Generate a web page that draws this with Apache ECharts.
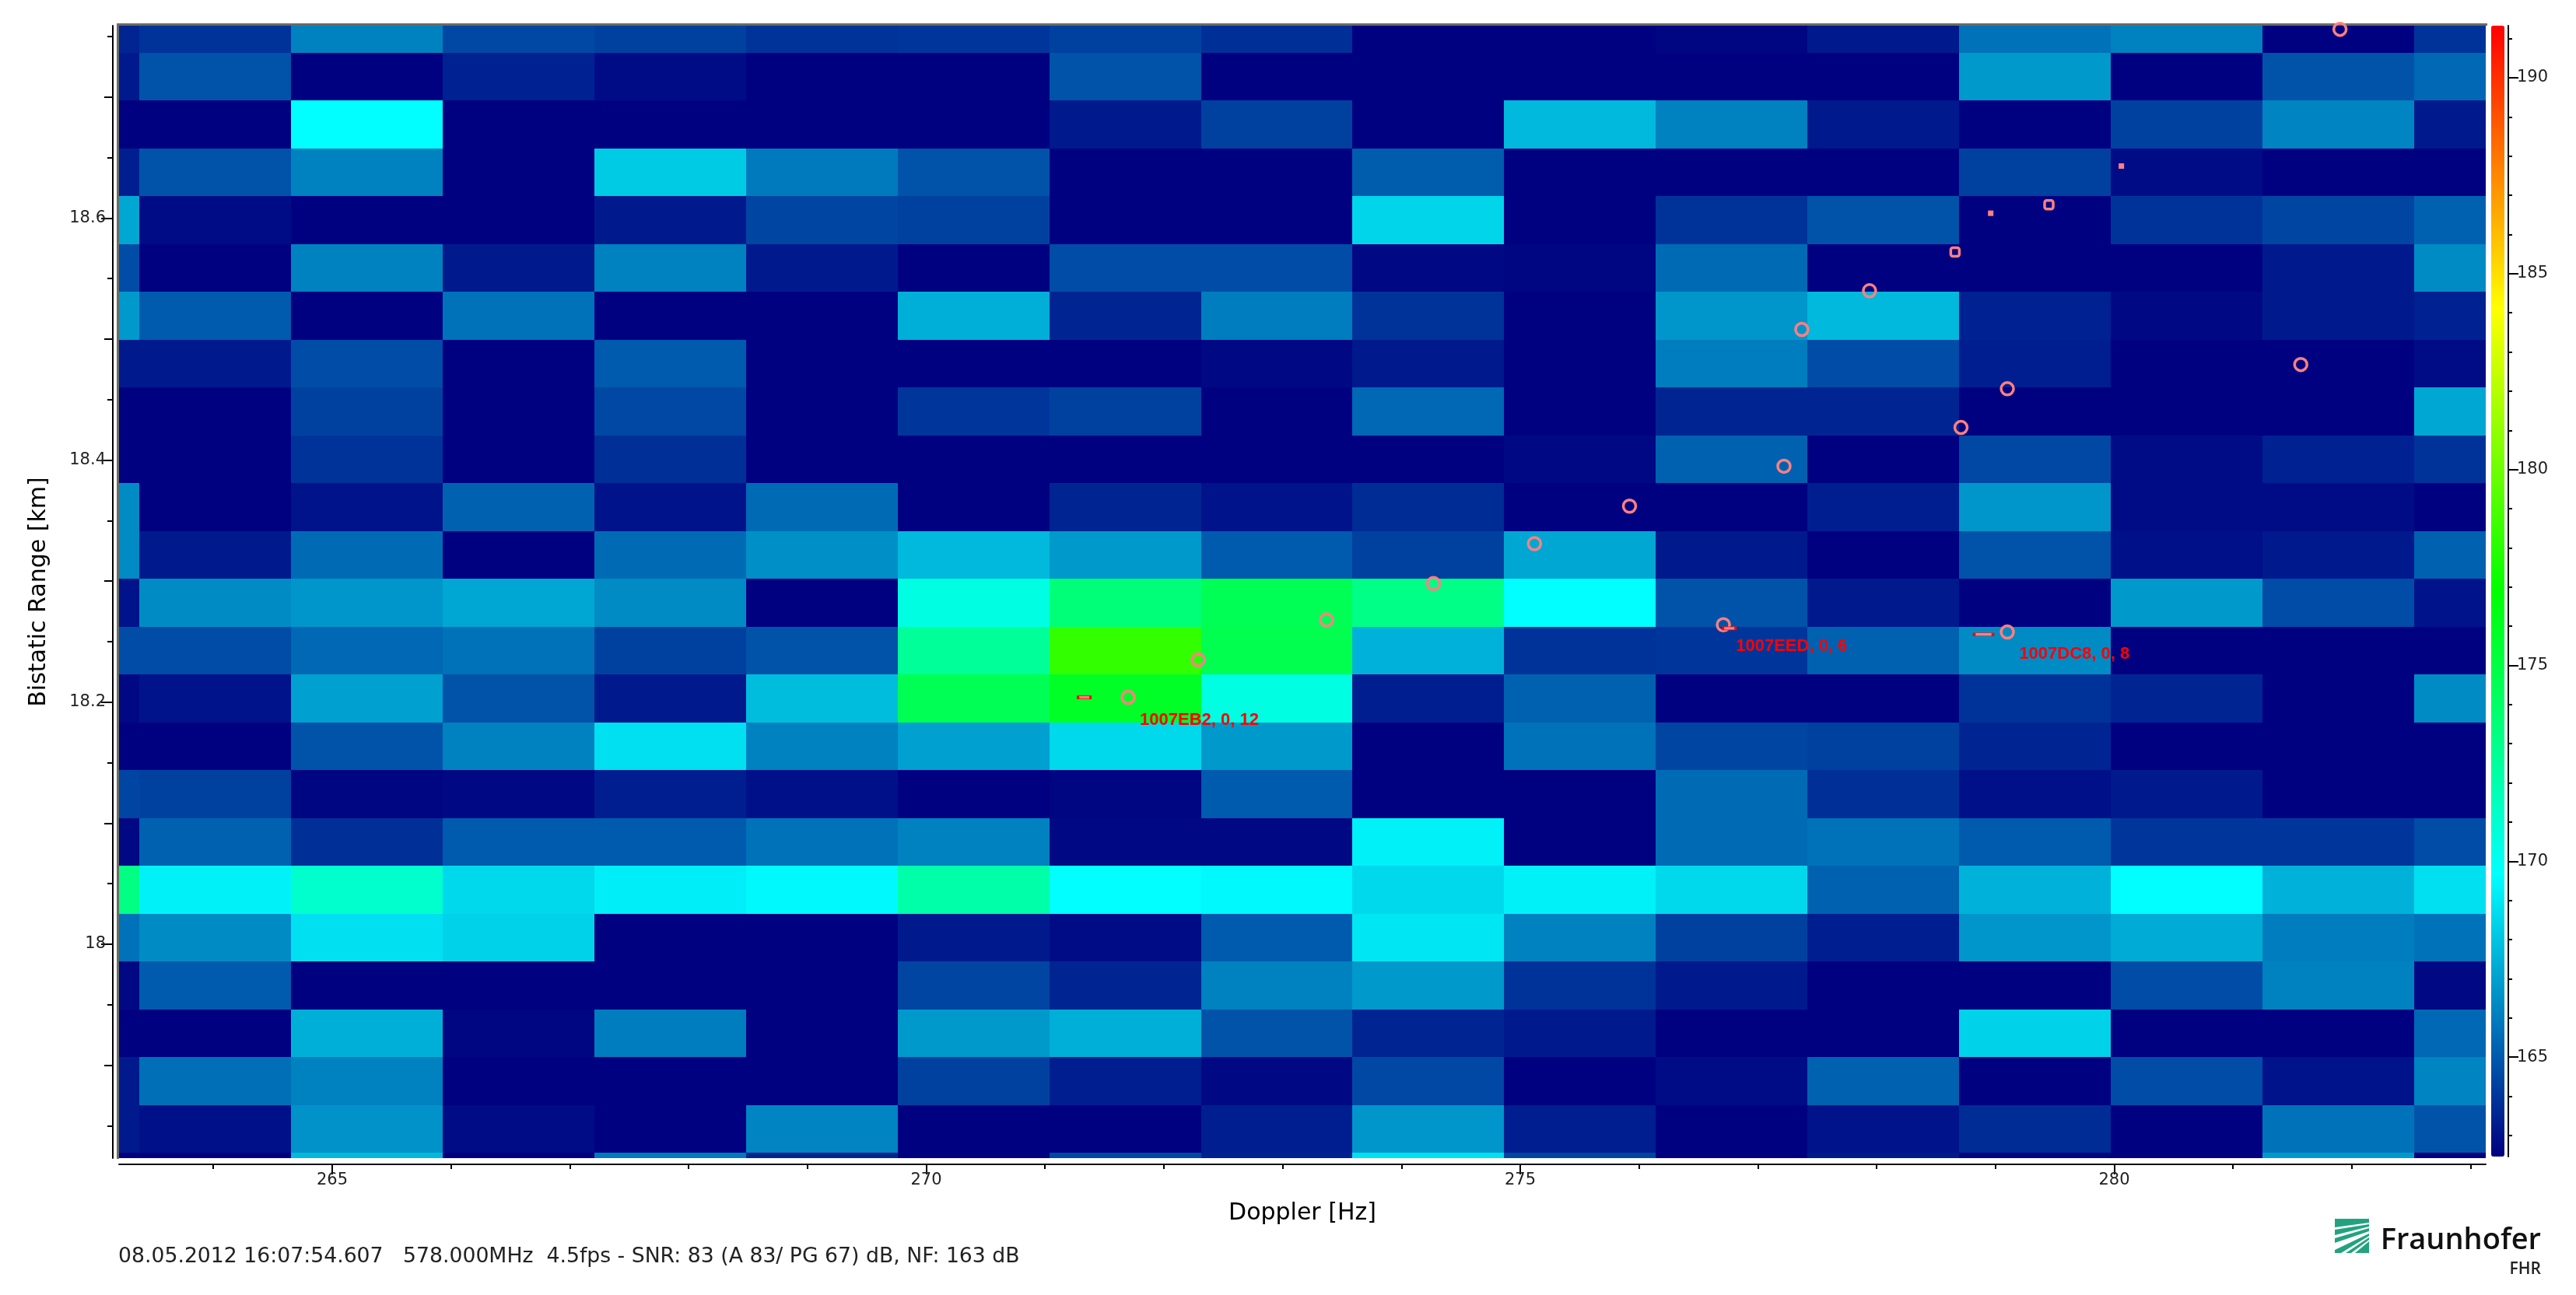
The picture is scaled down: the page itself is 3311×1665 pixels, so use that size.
<!DOCTYPE html>
<html>
<head>
<meta charset="utf-8">
<title>Bistatic range / Doppler</title>
<script src="https://cdn.jsdelivr.net/npm/echarts@6/dist/echarts.min.js"></script>
<style>
  html, body { margin: 0; padding: 0; background: #fff; }
  #main { width: 3311px; height: 1665px; }
</style>
</head>
<body>
<div id="main"></div>
<script>
// cell edges, left to right and top to bottom
var dopplerEdges = [263.206, 263.376, 264.652, 265.929, 267.205, 268.482, 269.759, 271.035, 272.312,
  273.588, 274.865, 276.142, 277.418, 278.695, 279.971, 281.248, 282.525, 283.127];
var rangeEdges = [18.759, 18.7365, 18.697, 18.6575, 18.618, 18.5785, 18.539, 18.4994, 18.46, 18.4204,
  18.3809, 18.3414, 18.3019, 18.2624, 18.2229, 18.1834, 18.1439, 18.1044, 18.0648, 18.0253,
  17.9859, 17.9463, 17.9068, 17.8673, 17.8278, 17.8233];

// power in dB, one row per range cell, top row first
var powerRows = [
  [163.5, 163.9, 166.1, 164.5, 164.3, 163.9, 164.0, 164.3, 163.8, 162.5, 162.5, 162.6, 163.2, 165.7, 166.1, 162.5, 163.9],
  [163.2, 164.8, 162.5, 163.4, 162.8, 162.5, 162.5, 164.8, 162.5, 162.5, 162.5, 162.5, 162.5, 166.8, 162.5, 164.8, 165.4],
  [162.5, 162.5, 169.7, 162.5, 162.5, 162.5, 162.5, 163.2, 164.3, 162.5, 167.7, 166.1, 163.2, 162.5, 164.3, 166.2, 163.2],
  [163.3, 164.8, 166.1, 162.5, 168.2, 165.9, 164.8, 162.5, 162.5, 165.1, 162.5, 162.5, 162.5, 164.3, 162.8, 162.5, 162.5],
  [167.2, 162.8, 162.5, 162.5, 163.2, 164.4, 164.3, 162.5, 162.5, 168.5, 162.5, 163.9, 164.8, 162.5, 163.9, 164.4, 165.2],
  [164.6, 162.5, 166.1, 163.2, 166.1, 163.2, 162.5, 164.6, 164.6, 162.7, 162.6, 165.5, 162.5, 162.5, 162.5, 163.2, 166.4],
  [166.8, 165.0, 162.5, 165.7, 162.5, 162.5, 167.4, 163.5, 166.0, 163.9, 162.5, 166.7, 167.7, 163.4, 162.7, 163.2, 163.4],
  [163.2, 163.2, 164.6, 162.5, 165.0, 162.5, 162.5, 162.5, 162.7, 163.2, 162.5, 166.0, 164.6, 163.3, 162.5, 162.5, 162.8],
  [162.5, 162.5, 164.3, 162.5, 164.5, 162.5, 164.0, 164.3, 162.5, 165.4, 162.5, 163.5, 163.5, 162.5, 162.5, 162.5, 167.2],
  [162.5, 162.5, 163.9, 162.5, 163.8, 162.5, 162.5, 162.5, 162.5, 162.5, 162.7, 165.2, 162.5, 164.5, 162.8, 163.4, 163.9],
  [166.4, 162.5, 163.0, 165.2, 163.0, 165.5, 162.5, 163.5, 163.0, 163.7, 162.5, 162.5, 163.3, 166.7, 162.8, 162.8, 162.5],
  [166.4, 163.2, 165.5, 162.5, 165.5, 166.5, 167.7, 166.8, 165.0, 164.3, 167.2, 163.2, 162.5, 164.8, 162.9, 163.2, 165.2],
  [163.0, 166.4, 166.7, 167.2, 166.4, 162.5, 170.5, 173.5, 174.5, 173.1, 169.7, 164.8, 163.2, 162.5, 166.8, 164.6, 163.0],
  [164.6, 164.6, 165.4, 165.7, 164.3, 164.8, 172.6, 178.3, 174.7, 167.5, 163.9, 164.0, 165.2, 166.4, 162.5, 162.5, 162.5],
  [162.7, 163.0, 167.0, 164.8, 163.2, 167.8, 174.5, 175.8, 170.5, 163.3, 165.2, 162.5, 162.5, 163.9, 163.5, 162.5, 166.4],
  [162.5, 162.5, 164.8, 166.1, 168.8, 166.1, 167.0, 168.6, 166.8, 162.5, 165.7, 164.4, 164.3, 163.5, 162.5, 162.5, 162.5],
  [164.4, 164.3, 162.6, 162.7, 163.3, 162.9, 162.5, 162.6, 165.0, 162.5, 162.5, 165.5, 163.8, 162.9, 163.2, 162.5, 162.5],
  [162.7, 165.2, 163.8, 165.0, 165.0, 165.7, 166.1, 162.7, 162.7, 169.3, 162.5, 165.5, 165.7, 165.0, 164.0, 164.0, 164.6],
  [173.2, 169.3, 171.1, 168.6, 169.2, 169.5, 172.1, 169.7, 169.5, 168.6, 169.3, 168.6, 165.2, 167.5, 169.7, 167.5, 168.8],
  [165.7, 166.4, 168.8, 168.4, 162.5, 162.5, 163.2, 162.8, 165.0, 169.0, 166.1, 164.3, 163.3, 166.7, 167.3, 166.0, 165.7],
  [162.7, 165.0, 162.5, 162.5, 162.5, 162.5, 164.4, 163.5, 166.1, 166.8, 163.9, 163.2, 162.5, 162.5, 164.6, 166.1, 162.7],
  [162.5, 162.5, 167.4, 162.6, 166.0, 162.5, 166.8, 167.4, 164.8, 163.5, 163.2, 162.5, 162.5, 168.4, 162.5, 162.5, 165.4],
  [163.2, 165.6, 166.1, 162.5, 162.5, 162.5, 164.3, 163.3, 162.7, 164.5, 162.5, 162.8, 165.2, 162.5, 164.6, 163.0, 166.2],
  [163.2, 162.9, 166.6, 162.8, 162.5, 166.2, 162.5, 162.5, 163.3, 166.7, 163.3, 162.5, 163.0, 163.7, 162.5, 165.7, 164.8],
  [162.5, 162.5, 167.7, 162.5, 165.9, 163.5, 162.5, 164.5, 163.4, 168.8, 164.4, 162.5, 163.2, 162.6, 162.5, 166.8, 162.5]
];

// [doppler, range]
var bigRings = [[281.90, 18.756], [277.94, 18.540], [277.37, 18.508], [279.10, 18.459], [278.71, 18.427],
  [277.22, 18.395], [275.92, 18.362], [275.12, 18.331], [274.27, 18.298], [273.37, 18.268], [276.71, 18.264],
  [279.10, 18.258], [272.29, 18.235], [271.70, 18.204], [281.57, 18.479]];
var smallRings = [[279.45, 18.611], [278.66, 18.572]];
var squares = [[280.06, 18.643], [278.96, 18.604]];
var tracks = [[271.33, 18.204], [276.76, 18.261], [278.90, 18.256]];
var trackNames = ['1007EB2, 0, 12', '1007EED, 0, 6', '1007DC8, 0, 8'];

var xMajor = [265, 270, 275, 280];
var xMinor = [264, 266, 267, 268, 269, 271, 272, 273, 274, 276, 277, 278, 279, 281, 282, 283];
var yMajor = [18, 18.2, 18.4, 18.6];
var yMedium = [17.9, 18.1, 18.3, 18.5, 18.7];
var yMinor = [17.85, 17.95, 18.05, 18.15, 18.25, 18.35, 18.45, 18.55, 18.65, 18.75];
var barMajor = [165, 170, 175, 180, 185, 190];
var barMinor = [163, 164, 166, 167, 168, 169, 171, 172, 173, 174, 176, 177, 178, 179, 181, 182, 183, 184, 186, 187, 188, 189, 191];

var footer = '08.05.2012 16:07:54.607   578.000MHz  4.5fps - SNR: 83 (A 83/ PG 67) dB, NF: 163 dB';

var dbMin = 162.46, dbMax = 191.33;
var font = 'DejaVu Sans';

var cells = [];
powerRows.forEach(function (row, r) {
  row.forEach(function (v, c) {
    cells.push([c, r, v]);
  });
});

function renderCell(params, api) {
  var c = api.value(0), r = api.value(1);
  var a = api.coord([dopplerEdges[c], rangeEdges[r]]);
  var b = api.coord([dopplerEdges[c + 1], rangeEdges[r + 1]]);
  var x0 = Math.round(a[0]), y0 = Math.round(a[1]);
  return {
    type: 'rect',
    shape: { x: x0, y: y0, width: Math.round(b[0]) - x0, height: Math.round(b[1]) - y0 },
    style: { fill: api.visual('color') }
  };
}

function tickAxis(values, len, extra) {
  var ax = {
    type: 'value',
    scale: true,
    splitLine: { show: false },
    axisLine: { show: false },
    axisLabel: { show: false },
    axisTick: { show: true, length: len, customValues: values, lineStyle: { color: '#000', width: 2 } }
  };
  for (var k in extra) ax[k] = extra[k];
  return ax;
}

var xBase = { gridIndex: 0, min: dopplerEdges[0], max: dopplerEdges[dopplerEdges.length - 1], position: 'bottom', offset: 8 };
var yBase = { gridIndex: 0, min: rangeEdges[rangeEdges.length - 1], max: rangeEdges[0], position: 'left', offset: 8 };
var barBase = { gridIndex: 1, min: dbMin, max: dbMax, position: 'right' };

var xMain = tickAxis(xMajor, 13, xBase);
xMain.axisLine = { show: true, onZero: false, lineStyle: { color: '#111', width: 2 } };
xMain.axisLabel = { show: true, customValues: xMajor, margin: 10, color: '#222', fontFamily: font, fontSize: 21 };
xMain.name = 'Doppler [Hz]';
xMain.nameLocation = 'middle';
xMain.nameGap = 48;
xMain.nameTextStyle = { color: '#000', fontFamily: font, fontSize: 30 };

var yMain = tickAxis(yMajor, 15, yBase);
yMain.axisLine = { show: true, onZero: false, lineStyle: { color: '#000', width: 2 } };
yMain.axisLabel = { show: true, customValues: yMajor, margin: 9, color: '#222', fontFamily: font, fontSize: 21 };
yMain.name = 'Bistatic Range [km]';
yMain.nameLocation = 'middle';
yMain.nameGap = 80;
yMain.nameTextStyle = { color: '#000', fontFamily: font, fontSize: 30 };

var barMain = tickAxis(barMajor, 13, barBase);
barMain.axisLine = { show: true, onZero: false, lineStyle: { color: '#000', width: 2 } };
barMain.axisLabel = { show: true, customValues: barMajor, margin: 11, color: '#222', fontFamily: font, fontSize: 21 };

var trackW = [16, 16, 24];
var trackOffset = [[62, 29], [-1, 23], [32, 25]];

var option = {
  backgroundColor: '#fff',
  animation: false,
  grid: [
    { left: 153, top: 33, width: 3042, height: 1456 },
    { left: 3223, top: 33, width: 1, height: 1454 }
  ],
  xAxis: [
    xMain,
    tickAxis(xMinor, 6, xBase),
    { type: 'value', gridIndex: 1, show: false, min: 0, max: 1 }
  ],
  yAxis: [
    yMain,
    tickAxis(yMedium, 11, yBase),
    tickAxis(yMinor, 7, yBase),
    barMain,
    tickAxis(barMinor, 6, barBase)
  ],
  visualMap: {
    type: 'continuous',
    seriesIndex: 0,
    dimension: 2,
    min: dbMin,
    max: dbMax,
    calculable: false,
    left: 3202,
    top: 33,
    padding: 0,
    itemWidth: 17,
    itemHeight: 1454,
    inRange: { color: ['#000080', '#00ffff', '#00ff00', '#ffff00', '#ff0000'] }
  },
  series: [
    {
      type: 'custom',
      xAxisIndex: 0,
      yAxisIndex: 0,
      silent: true,
      renderItem: renderCell,
      encode: { x: 0, y: 1 },
      data: cells
    },
    {
      type: 'scatter',
      xAxisIndex: 0,
      yAxisIndex: 0,
      silent: true,
      symbol: 'circle',
      symbolSize: 16,
      itemStyle: { color: 'rgba(0,0,0,0)', borderColor: '#ff8080', borderWidth: 3.5, opacity: 1 },
      data: bigRings
    },
    {
      type: 'scatter',
      xAxisIndex: 0,
      yAxisIndex: 0,
      silent: true,
      symbol: 'roundRect',
      symbolSize: 11,
      itemStyle: { color: 'rgba(0,0,0,0)', borderColor: '#ff8080', borderWidth: 3.5, opacity: 1 },
      data: smallRings
    },
    {
      type: 'scatter',
      xAxisIndex: 0,
      yAxisIndex: 0,
      silent: true,
      symbol: 'rect',
      symbolSize: 7,
      itemStyle: { color: '#ff8080', opacity: 1 },
      data: squares
    },
    {
      type: 'scatter',
      xAxisIndex: 0,
      yAxisIndex: 0,
      silent: true,
      symbol: 'rect',
      itemStyle: { color: '#ff8080', borderColor: '#ff0000', borderWidth: 1.5, opacity: 1 },
      data: tracks.map(function (p, i) {
        return {
          value: p,
          symbolSize: [trackW[i], 4],
          label: {
            show: true,
            position: 'right',
            distance: 0,
            offset: trackOffset[i],
            formatter: trackNames[i],
            color: '#ff0000',
            fontFamily: 'Liberation Sans',
            fontWeight: 'bold',
            fontSize: 22
          }
        };
      })
    }
  ],
  graphic: [
    // frame round the picture, top and left only
    { type: 'rect', shape: { x: 150, y: 30, width: 3047, height: 3 }, style: { fill: '#6b6b63' } },
    { type: 'rect', shape: { x: 150, y: 30, width: 3, height: 1460 }, style: { fill: '#6b6b63' } },
    {
      type: 'text', x: 152, y: 1616,
      style: { text: footer, fill: '#222', font: '26.7px "DejaVu Sans"', verticalAlign: 'middle' }
    },
    // logo
    { type: 'rect', shape: { x: 3001, y: 1567, width: 44, height: 44 }, style: { fill: '#22a37f' } },
    { type: 'polygon', shape: { points: [[3045, 1572], [3045, 1574], [3001, 1581], [3001, 1578]] }, style: { fill: '#fff' } },
    { type: 'polygon', shape: { points: [[3045, 1577], [3045, 1579], [3001, 1592], [3001, 1588]] }, style: { fill: '#fff' } },
    { type: 'polygon', shape: { points: [[3045, 1583], [3045, 1586], [3001, 1607], [3001, 1598]] }, style: { fill: '#fff' } },
    { type: 'polygon', shape: { points: [[3045, 1589], [3045, 1591], [3015, 1611], [3009, 1611]] }, style: { fill: '#fff' } },
    { type: 'polygon', shape: { points: [[3045, 1594], [3045, 1596], [3027, 1611], [3022, 1611]] }, style: { fill: '#fff' } },
    {
      type: 'text', x: 3266, y: 1614,
      style: { text: 'Fraunhofer', fill: '#111', font: '600 38px "Open Sans"', align: 'right', verticalAlign: 'bottom' }
    },
    {
      type: 'text', x: 3266, y: 1643,
      style: { text: 'FHR', fill: '#222', font: '600 21px "Open Sans"', align: 'right', verticalAlign: 'bottom' }
    }
  ]
};

var myChart = echarts.init(document.getElementById('main'));
myChart.setOption(option);
</script>
</body>
</html>
